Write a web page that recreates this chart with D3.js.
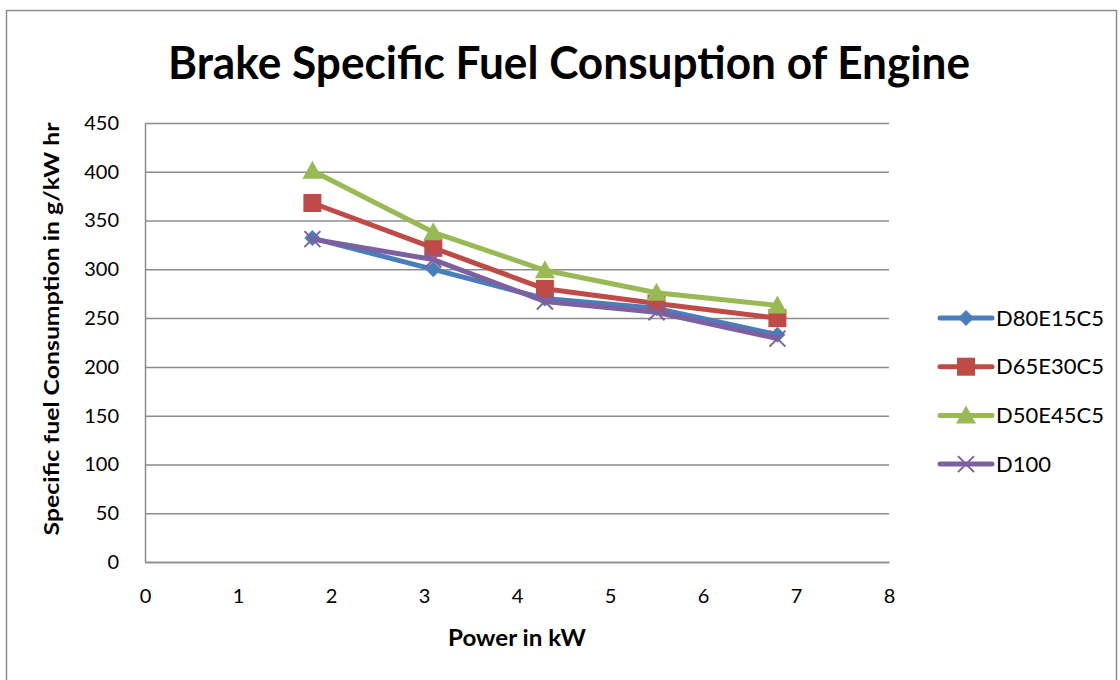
<!DOCTYPE html>
<html>
<head>
<meta charset="utf-8">
<script src="https://cdn.jsdelivr.net/npm/d3@7"></script>
<style>
  body { margin: 0; background: #fff; }
  text { font-family: Lato, "Open Sans", sans-serif; fill: #000; }
</style>
</head>
<body>
<div id="chart"></div>
<script>
const powerKW = [1.8, 3.1, 4.3, 5.5, 6.8];
const seriesNames = ["D80E15C5", "D65E30C5", "D50E45C5", "D100"];
const d80e15c5 = [332, 300, 270, 260, 233];
const d65e30c5 = [368, 322, 280, 265, 250];
const d50e45c5 = [401, 338, 299, 276, 263];
const d100 = [331, 310, 267, 256, 229];
const xTicks = [0, 1, 2, 3, 4, 5, 6, 7, 8];
const yTicks = [0, 50, 100, 150, 200, 250, 300, 350, 400, 450];

const colors = ["#4A7EBB", "#BE4B48", "#98B954", "#7D60A0"];
const markers = ["diamond", "square", "triangle", "cross"];
const seriesVals = [d80e15c5, d65e30c5, d50e45c5, d100];

const W = 1120, H = 680;
const margin = { top: 123, right: 231, bottom: 118, left: 145 };
const width = W - margin.left - margin.right;
const height = H - margin.top - margin.bottom;

const svg = d3.select('#chart').append('svg')
    .attr('width', W).attr('height', H);

// outer chart border
svg.append('rect')
    .attr('x', 6.5).attr('y', 10.5)
    .attr('width', 1110).attr('height', 700)
    .attr('fill', 'none').attr('stroke', '#8c8c8c').attr('stroke-width', 1.5);

svg.append('text')
    .attr('x', 569).attr('y', 79)
    .attr('text-anchor', 'middle')
    .attr('textLength', 802).attr('lengthAdjust', 'spacingAndGlyphs')
    .style('font-size', '45px').style('font-weight', 'bold')
    .text('Brake Specific Fuel Consuption of Engine');

const g = svg.append('g').attr('transform', `translate(${margin.left}, ${margin.top})`);

const xScale = d3.scaleLinear().domain([0, 8]).range([0, width]);
const yScale = d3.scaleLinear().domain([0, 450]).range([height, 0]);

// gridlines
g.append('g')
    .call(d3.axisLeft(yScale).tickValues(yTicks).tickSize(-width).tickFormat(''))
    .call(s => s.select('.domain').remove())
    .selectAll('line').attr('stroke', '#8c8c8c').attr('stroke-width', 1.5);

// y axis
g.append('g')
    .call(d3.axisLeft(yScale).tickValues(yTicks).tickSize(0).tickPadding(26))
    .call(s => s.select('.domain').attr('stroke', '#8c8c8c').attr('stroke-width', 1.5))
    .selectAll('text').style('font-size', '20px').attr('fill', '#000');

// x axis
g.append('g')
    .attr('transform', `translate(0, ${height})`)
    .call(d3.axisBottom(xScale).tickValues(xTicks).tickSize(0).tickPadding(27))
    .call(s => s.select('.domain').attr('stroke', '#8c8c8c').attr('stroke-width', 1.5))
    .selectAll('text').style('font-size', '20px').attr('fill', '#000');

svg.append('text')
    .attr('x', 517).attr('y', 646)
    .attr('text-anchor', 'middle')
    .attr('textLength', 138).attr('lengthAdjust', 'spacingAndGlyphs')
    .style('font-size', '22px').style('font-weight', 'bold')
    .text('Power in kW');

svg.append('text')
    .attr('transform', 'translate(59, 329) rotate(-90)')
    .attr('text-anchor', 'middle')
    .attr('textLength', 413).attr('lengthAdjust', 'spacingAndGlyphs')
    .style('font-size', '21px').style('font-weight', 'bold')
    .text('Specific fuel Consumption in g/kW hr');

function drawMarker(sel, type, color) {
    if (type === 'diamond') {
        sel.append('path').attr('d', 'M0,-8L8,0L0,8L-8,0Z').attr('fill', color);
    } else if (type === 'square') {
        sel.append('rect').attr('x', -9).attr('y', -9).attr('width', 18).attr('height', 18).attr('fill', color);
    } else if (type === 'triangle') {
        sel.append('path').attr('d', 'M0,-10L10,8L-10,8Z').attr('fill', color);
    } else {
        sel.append('path').attr('d', 'M-8,-8L8,8M-8,8L8,-8')
            .attr('stroke', color).attr('stroke-width', 2).attr('fill', 'none');
    }
}

const line = d3.line().x((d, i) => xScale(powerKW[i])).y(d => yScale(d));

seriesVals.forEach((vals, si) => {
    g.append('path')
        .datum(vals)
        .attr('d', line)
        .attr('fill', 'none')
        .attr('stroke', colors[si])
        .attr('stroke-width', 5)
        .attr('stroke-linejoin', 'round')
        .attr('stroke-linecap', 'round');
    vals.forEach((v, i) => {
        const m = g.append('g').attr('transform', `translate(${xScale(powerKW[i])}, ${yScale(v)})`);
        drawMarker(m, markers[si], colors[si]);
    });
});

// legend
const legend = svg.append('g').attr('class', 'legend');
seriesNames.forEach((name, i) => {
    const row = legend.append('g').attr('transform', `translate(940, ${318 + i * 48.7})`);
    row.append('line')
        .attr('x1', 0).attr('x2', 52).attr('y1', 0).attr('y2', 0)
        .attr('stroke', colors[i]).attr('stroke-width', 5).attr('stroke-linecap', 'round');
    drawMarker(row.append('g').attr('transform', 'translate(26,0)'), markers[i], colors[i]);
    row.append('text')
        .attr('x', 56).attr('y', 0).attr('dy', '0.35em')
        .style('font-size', '22px')
        .text(name);
});
</script>
</body>
</html>
